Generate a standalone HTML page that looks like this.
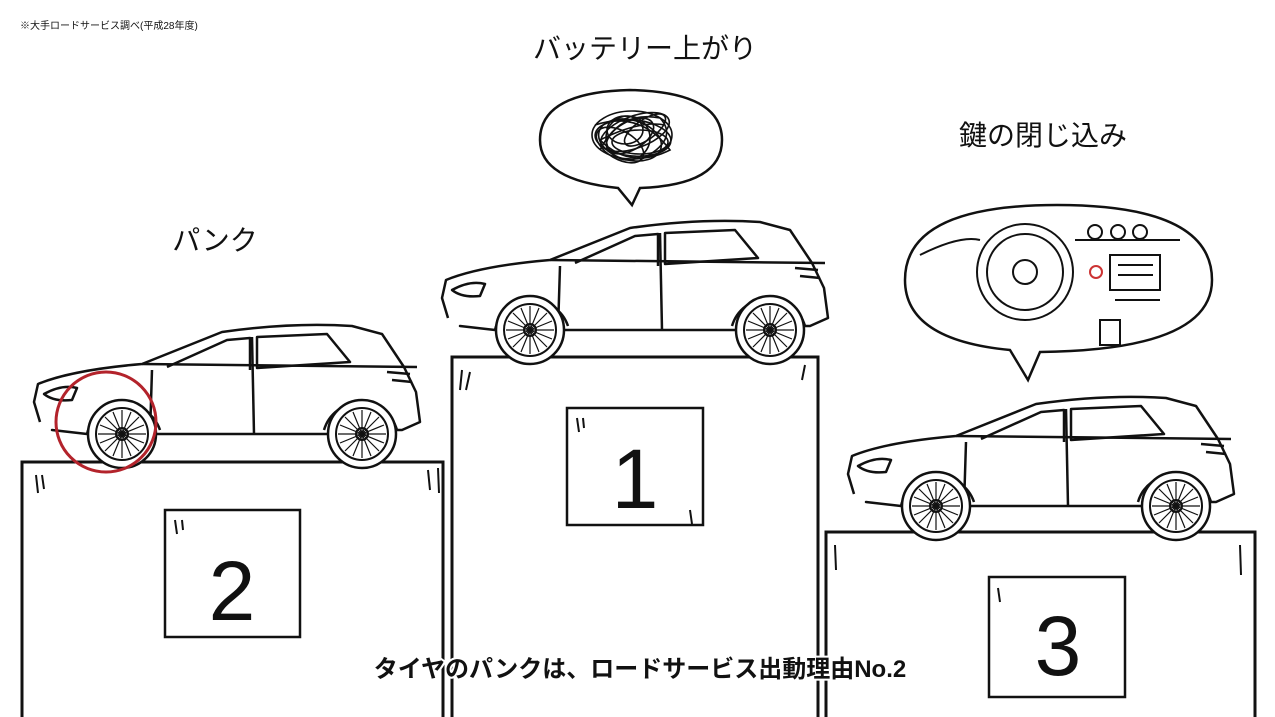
<!DOCTYPE html>
<html><head><meta charset="utf-8"><style>
body{margin:0;background:#fff;}
svg{display:block;font-family:"Liberation Sans","Noto Sans CJK JP",sans-serif;}
</style></head><body>
<svg width="1275" height="717" viewBox="0 0 1275 717" xmlns="http://www.w3.org/2000/svg">
<defs>
<g id="wheel">
  <circle r="34" fill="#fff" stroke="#111" stroke-width="2.5"/>
  <circle r="26" fill="none" stroke="#111" stroke-width="2"/>
  <circle r="6" fill="none" stroke="#111" stroke-width="2"/>
  <path d="M0-24V24M-24 0H24M-17-17L17 17M17-17L-17 17M-9-22L9 22M9-22L-9 22M-22-9L22 9M22-9L-22 9" stroke="#111" stroke-width="1.2"/>
</g>
<g id="car" fill="none" stroke="#111" stroke-width="2.5" stroke-linejoin="round">
  <path d="M8 100 L2 80 L6 62 Q40 48 110 42 L190 10 Q260 0 320 4 L350 12 L372 45 L384 70 L388 100 L370 108 L365 108 M295 112 L125 112 M55 112 L20 108 Z" fill="#fff"/>
  <path d="M110 42 L385 45"/>
  <path d="M135 45 L195 18 L218 16 L218 48 M225 15 L295 12 L318 40 L225 46 Z"/>
  <path d="M220 15 L222 112"/>
  <path d="M120 48 L118 112"/>
  <path d="M12 72 Q30 62 45 66 L40 78 Q22 80 12 72Z"/>
  <path d="M355 50 L378 52 M360 58 L380 60"/>
  <path d="M55 112 A38 38 0 0 1 128 108 M292 108 A38 38 0 0 1 365 108"/>
  <use href="#wheel" x="90" y="112"/>
  <use href="#wheel" x="330" y="112"/>
</g>
</defs>
<text x="20" y="29" font-size="10" fill="#111">※大手ロードサービス調べ(平成28年度)</text>

<g fill="none" stroke="#111" stroke-width="3">
  <path d="M22 717 V462 H443 V717"/>
  <path d="M452 717 V357 H818 V717"/>
  <path d="M826 717 V532 H1255 V717"/>
  <rect x="165" y="510" width="135" height="127" stroke-width="2.5"/>
  <rect x="567" y="408" width="136" height="117" stroke-width="2.5"/>
  <rect x="989" y="577" width="136" height="120" stroke-width="2.5"/>
</g>
<g fill="none" stroke="#111" stroke-width="2">
  <path d="M36 475 l2 18 M42 475 l2 14 M428 470 l2 20 M438 468 l1 25 M462 370 l-2 20 M470 372 l-4 18 M805 365 l-3 15 M175 520 l2 14 M182 520 l1 10 M577 418 l2 14 M583 418 l1 10 M690 510 l2 14 M835 545 l1 25 M1240 545 l1 30 M998 588 l2 14"/>
</g>
<text x="232" y="620" font-size="84" text-anchor="middle" fill="#111">2</text>
<text x="635" y="508" font-size="84" text-anchor="middle" fill="#111">1</text>
<text x="1058" y="675" font-size="84" text-anchor="middle" fill="#111">3</text>

<use href="#car" x="440" y="218"/>
<use href="#car" x="32" y="322"/>
<use href="#car" x="846" y="394"/>
<circle cx="106" cy="422" r="50" fill="none" stroke="#b3232b" stroke-width="3"/>

<path d="M618 188 Q540 180 540 140 Q540 92 630 90 Q722 92 722 140 Q722 185 640 188 L632 205 Z" fill="#fff" stroke="#111" stroke-width="2.5"/>
<g fill="none" stroke="#111" stroke-width="1.6">
  <ellipse cx="632" cy="135" rx="40" ry="24"/><ellipse cx="630" cy="140" rx="32" ry="20" transform="rotate(15 630 140)"/>
  <ellipse cx="635" cy="132" rx="36" ry="16" transform="rotate(-20 635 132)"/><ellipse cx="628" cy="138" rx="22" ry="22"/>
  <ellipse cx="640" cy="142" rx="28" ry="12"/><ellipse cx="625" cy="130" rx="18" ry="14"/>
  <ellipse cx="620" cy="145" rx="26" ry="14" transform="rotate(30 620 145)"/><ellipse cx="645" cy="130" rx="24" ry="10" transform="rotate(-35 645 130)"/>
  <ellipse cx="633" cy="138" rx="38" ry="18" transform="rotate(5 633 138)"/><ellipse cx="630" cy="136" rx="14" ry="26" transform="rotate(60 630 136)"/>
  <path d="M595 125 Q640 110 670 150 Q630 170 600 140 Q640 120 665 125 M600 150 Q620 110 660 118 Q680 140 640 160"/>
</g>
<path d="M1010 350 Q905 340 905 280 Q905 205 1057 205 Q1212 205 1212 280 Q1212 350 1040 352 L1028 380 Z" fill="#fff" stroke="#111" stroke-width="2.5"/>
<g fill="none" stroke="#111" stroke-width="2">
  <circle cx="1025" cy="272" r="48"/><circle cx="1025" cy="272" r="38"/><circle cx="1025" cy="272" r="12"/>
  <path d="M920 255 Q960 235 980 240 M1075 240 L1180 240 M1110 255 H1160 V290 H1110Z M1115 300 H1160 M1100 320 h20 v25 h-20z M1118 265 h35 M1118 275 h35"/>
  <circle cx="1095" cy="232" r="7"/><circle cx="1118" cy="232" r="7"/><circle cx="1140" cy="232" r="7"/>
  <circle cx="1096" cy="272" r="6" stroke="#c33"/>
</g>

<text x="645" y="58" font-size="28" text-anchor="middle" fill="#111">バッテリー上がり</text>
<text x="1043" y="145" font-size="28" text-anchor="middle" fill="#111">鍵の閉じ込み</text>
<text x="215" y="250" font-size="28" text-anchor="middle" fill="#111">パンク</text>
<text x="640" y="677" font-size="24" font-weight="bold" text-anchor="middle" fill="#111" stroke="#fff" stroke-width="4" paint-order="stroke">タイヤのパンクは、ロードサービス出動理由No.2</text>
</svg>
</body></html>
